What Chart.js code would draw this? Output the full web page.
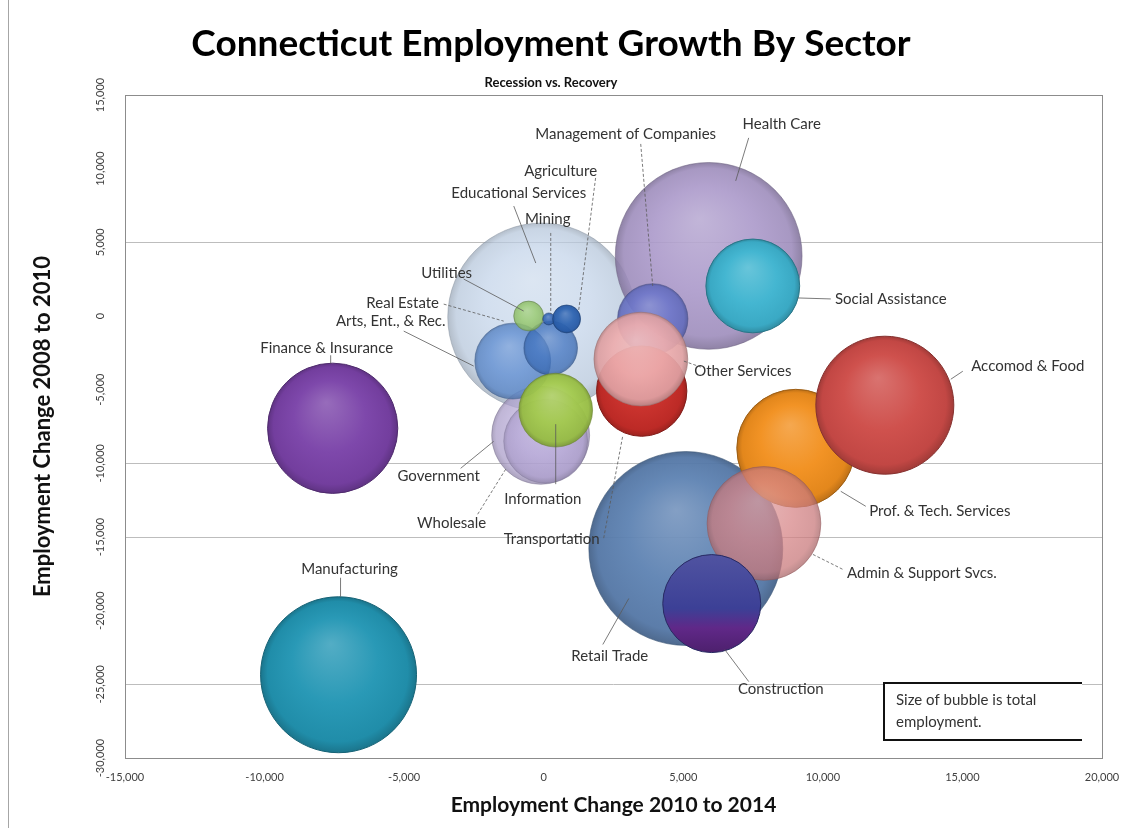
<!DOCTYPE html>
<html>
<head>
<meta charset="utf-8">
<title>Connecticut Employment Growth By Sector</title>
<script src="https://cdn.jsdelivr.net/npm/chart.js@4.4.1/dist/chart.umd.min.js"></script>
<style>
  html, body { margin: 0; padding: 0; background: #fff; }
  #wrap { width: 1132px; height: 828px; position: relative; }
</style>
</head>
<body>
<div id="wrap"><canvas id="bubbleChart" width="1132" height="828"></canvas></div>
<script>
/* =========================
   DATA (draw order: back to front)
========================= */
const sectors = [
  "Educational Services", "Health Care", "Retail Trade", "Government", "Wholesale",
  "Arts, Ent., & Rec.", "Real Estate", "Utilities", "Mining", "Agriculture",
  "Information", "Management of Companies", "Transportation", "Other Services",
  "Social Assistance", "Finance & Insurance", "Manufacturing", "Prof. & Tech. Services",
  "Admin & Support Svcs.", "Accomod & Food", "Construction"
];

// employment change 2010 to 2014 (x)
const recoveryChange = [
  -70, 5910, 5090, -110, 70,
  -1110, 250, -540, 180, 820,
  430, 3905, 3510, 3480,
  7490, -7560, -7350, 9030,
  7890, 12220, 6020
];

// employment change 2008 to 2010 (y)
const recessionChange = [
  -70, 4080, -15780, -8100, -8500,
  -3060, -2180, 0, -200, -200,
  -6390, -200, -5100, -2925,
  2040, -7620, -24350, -8980,
  -14080, -6055, -19520
];

// total employment (bubble size)
const totalEmployment = [
  221000, 218000, 235000, 60000, 44000,
  36000, 18000, 5600, 900, 4900,
  34000, 31000, 51000, 55000,
  55000, 106000, 152000, 87000,
  81000, 119000, 60000
];

const xTickValues = [-15000, -10000, -5000, 0, 5000, 10000, 15000, 20000];
const yTickValues = [15000, 10000, 5000, 0, -5000, -10000, -15000, -20000, -25000, -30000];
const yGridValues = [5000, -10000, -15000, -25000];

/* =========================
   STYLES
========================= */
const BUBBLE_SCALE = 0.2;

// [r, g, b, alpha]
const sectorColors = [
  [192, 210, 232, 0.72], [168, 150, 200, 0.9], [88, 126, 176, 0.95], [182, 168, 214, 0.75], [176, 160, 212, 0.6],
  [100, 145, 210, 0.85], [60, 112, 190, 0.75], [150, 200, 110, 0.85], [50, 100, 180, 0.9], [40, 95, 175, 0.95],
  [160, 200, 70, 0.95], [105, 115, 200, 0.9], [200, 45, 40, 1], [236, 170, 172, 0.93],
  [62, 180, 208, 1], [122, 66, 168, 1], [34, 150, 180, 1], [242, 144, 30, 1],
  [214, 130, 132, 0.75], [206, 76, 72, 1], [60, 64, 150, 1]
];

// optional colour for the lower rim of a bubble
const rimColors = {
  "Construction": [96, 40, 136, 1]
};

// label centre offset from bubble centre, in px
const labelOffsets = [
  [-23, -124], [73, -132], [-76, 108], [-102, 41], [-94, 82],
  [-122, -40], [-148, -45], [-82, -43], [-1, -100], [-6, -148],
  [-13, 89], [-27, -185], [-90, 148], [102, 12],
  [138, 13], [-6, -80], [11, -106], [144, 63],
  [158, 50], [143, -39], [69, 86]
];

// leader line [x1, y1, x2, y2, dashed], offsets from bubble centre
const leaderLines = [
  [-28, -111, -6, -54, false], [40, -118, 27, -75, false], [-83, 96, -57, 50, false], [-80, 33, -47, 6, false], [-68, 73, -40, 28, true],
  [-109, -30, -39, 5, false], [-107, -44, -47, -27, true], [-65, -37, -5, -5, false], [2, -86, 2, -5, true], [29, -141, 12, -8, true],
  [0, 74, 0, 14, false], [-12, -175, 0, -33, true], [-38, 147, -19, 45, true], [60, 8, 43, 2, true],
  [45, 12, 78, 13, false], [-2, -73, -2, -65, false], [2, -97, 2, -78, false], [45, 43, 70, 58, false],
  [49, 31, 79, 46, true], [78, -34, 66, -26, false], [13, 46, 37, 78, false]
];

const FONT = "Lato, 'Open Sans', sans-serif";

function rgba(c, k, a) {
  // k > 0 mixes toward white, k < 0 toward black
  const mix = v => k >= 0 ? Math.round(v + (255 - v) * k) : Math.round(v * (1 + k));
  return `rgba(${mix(c[0])},${mix(c[1])},${mix(c[2])},${a === undefined ? c[3] : a})`;
}

function fmt(v) {
  return v.toLocaleString("en-US");
}

/* =========================
   PLUGINS
========================= */
const framePlugin = {
  id: "frame",
  beforeDraw(chart) {
    const { ctx, height } = chart;
    ctx.save();
    ctx.strokeStyle = "#a6a6a6";
    ctx.lineWidth = 1;
    ctx.beginPath();
    ctx.moveTo(8.5, 0);
    ctx.lineTo(8.5, height);
    ctx.stroke();
    ctx.restore();
  },
  afterDatasetsDraw(chart) {
    const { ctx, chartArea: a } = chart;
    ctx.save();
    ctx.strokeStyle = "#8c8c8c";
    ctx.lineWidth = 1;
    ctx.strokeRect(Math.round(a.left) + 0.5, Math.round(a.top) + 0.5,
      Math.round(a.right - a.left), Math.round(a.bottom - a.top));
    ctx.restore();
  }
};

const labelPlugin = {
  id: "sectorLabels",
  afterDatasetsDraw(chart) {
    const { ctx } = chart;
    const meta = chart.getDatasetMeta(0);
    ctx.save();
    ctx.font = "15px " + FONT;
    ctx.textAlign = "center";
    ctx.textBaseline = "middle";
    meta.data.forEach((pt, i) => {
      const [x1, y1, x2, y2, dashed] = leaderLines[i];
      ctx.strokeStyle = "rgba(90,90,90,0.8)";
      ctx.lineWidth = 1;
      ctx.setLineDash(dashed ? [3, 2] : []);
      ctx.beginPath();
      ctx.moveTo(pt.x + x1, pt.y + y1);
      ctx.lineTo(pt.x + x2, pt.y + y2);
      ctx.stroke();

      const [dx, dy] = labelOffsets[i];
      ctx.fillStyle = "#333333";
      ctx.fillText(sectors[i], pt.x + dx, pt.y + dy);
    });
    ctx.restore();
  }
};

const noteBoxPlugin = {
  id: "noteBox",
  afterDraw(chart) {
    const { ctx, chartArea: a } = chart;
    const x = a.right - 218, y = a.bottom - 75, w = 198, h = 57;
    ctx.save();
    ctx.fillStyle = "#ffffff";
    ctx.fillRect(x, y, w, h);
    ctx.strokeStyle = "#111111";
    ctx.lineWidth = 2;
    ctx.beginPath();
    ctx.moveTo(x + w, y);
    ctx.lineTo(x, y);
    ctx.lineTo(x, y + h);
    ctx.lineTo(x + w, y + h);
    ctx.stroke();
    ctx.fillStyle = "#333333";
    ctx.font = "15px " + FONT;
    ctx.textAlign = "left";
    ctx.textBaseline = "middle";
    ctx.fillText("Size of bubble is total", x + 12, y + 17);
    ctx.fillText("employment.", x + 12, y + 39);
    ctx.restore();
  }
};

/* =========================
   CHART
========================= */
function bubbleFill(ctx) {
  const c = sectorColors[ctx.dataIndex];
  const chart = ctx.chart;
  const xs = chart.scales.x, ys = chart.scales.y;
  if (ctx.type !== "data" || !xs || !ys || !chart.chartArea) return rgba(c, 0);
  const cx = xs.getPixelForValue(ctx.raw.x);
  const cy = ys.getPixelForValue(ctx.raw.y);
  const r = ctx.raw.r;
  const rim = rimColors[sectors[ctx.dataIndex]];
  if (rim) {
    // two-tone bubble: base colour on top, rim colour underneath
    const lg = chart.ctx.createLinearGradient(cx, cy - r, cx, cy + r);
    lg.addColorStop(0, rgba(c, 0.1));
    lg.addColorStop(0.55, rgba(c, 0));
    lg.addColorStop(0.75, rgba(rim, 0));
    lg.addColorStop(1, rgba(rim, -0.2));
    return lg;
  }
  const g = chart.ctx.createRadialGradient(cx - r * 0.1, cy - r * 0.4, 0, cx, cy, r);
  g.addColorStop(0, rgba(c, 0.22));
  g.addColorStop(0.55, rgba(c, 0.03));
  g.addColorStop(0.9, rgba(c, -0.06));
  g.addColorStop(1, rgba(c, -0.22));
  return g;
}

const points = sectors.map((s, i) => ({
  x: recoveryChange[i],
  y: recessionChange[i],
  r: Math.sqrt(totalEmployment[i]) * BUBBLE_SCALE
}));

new Chart(document.getElementById("bubbleChart"), {
  type: "bubble",
  data: {
    labels: sectors,
    datasets: [{
      label: "Total employment",
      data: points,
      backgroundColor: bubbleFill,
      borderColor: sectorColors.map(c => rgba(c, -0.35, c[3] < 1 ? c[3] * 0.6 : 1)),
      borderWidth: 1
    }]
  },
  options: {
    responsive: false,
    animation: false,
    events: [],
    layout: {
      autoPadding: false,
      padding: { top: 6, right: 30, bottom: 0, left: 0 }
    },
    plugins: {
      legend: { display: false },
      tooltip: { enabled: false },
      title: {
        display: true,
        text: "Connecticut Employment Growth By Sector",
        color: "#000000",
        font: { family: FONT, size: 37, weight: "bold" },
        padding: { top: 16, bottom: 9 }
      },
      subtitle: {
        display: true,
        text: "Recession vs. Recovery",
        color: "#111111",
        font: { family: FONT, size: 13, weight: "bold" },
        padding: { top: 0, bottom: 4 }
      }
    },
    scales: {
      x: {
        type: "linear",
        min: xTickValues[0],
        max: xTickValues[xTickValues.length - 1],
        afterBuildTicks: scale => { scale.ticks = xTickValues.map(v => ({ value: v })); },
        afterFit: scale => {
          scale.height = 70;
          scale.paddingLeft = 0;
          scale.paddingRight = 0;
        },
        grid: { display: false, drawTicks: false },
        border: { display: false },
        ticks: {
          padding: 13,
          color: "#404040",
          font: { family: FONT, size: 11 },
          callback: v => fmt(v)
        },
        title: {
          display: true,
          text: "Employment Change 2010 to 2014",
          color: "#111111",
          font: { family: FONT, size: 21, weight: "bold" },
          padding: { top: 0, bottom: 10 }
        }
      },
      y: {
        type: "linear",
        min: yTickValues[yTickValues.length - 1],
        max: yTickValues[0],
        afterBuildTicks: scale => { scale.ticks = yTickValues.map(v => ({ value: v })); },
        afterFit: scale => {
          scale.width = 125;
          scale.paddingTop = 0;
          scale.paddingBottom = 0;
        },
        grid: {
          drawTicks: false,
          color: ctx => yGridValues.includes(ctx.tick && ctx.tick.value) ? "#bdbdbd" : "rgba(0,0,0,0)"
        },
        border: { display: false },
        ticks: {
          minRotation: 90,
          maxRotation: 90,
          crossAlign: "center",
          padding: 5,
          color: "#404040",
          font: { family: FONT, size: 11 },
          callback: v => fmt(v)
        },
        title: {
          display: true,
          text: "Employment Change 2008 to 2010",
          color: "#111111",
          font: { family: FONT, size: 22, weight: "bold" },
          padding: { top: 30, bottom: 0 }
        }
      }
    }
  },
  plugins: [framePlugin, labelPlugin, noteBoxPlugin]
});
</script>
</body>
</html>
